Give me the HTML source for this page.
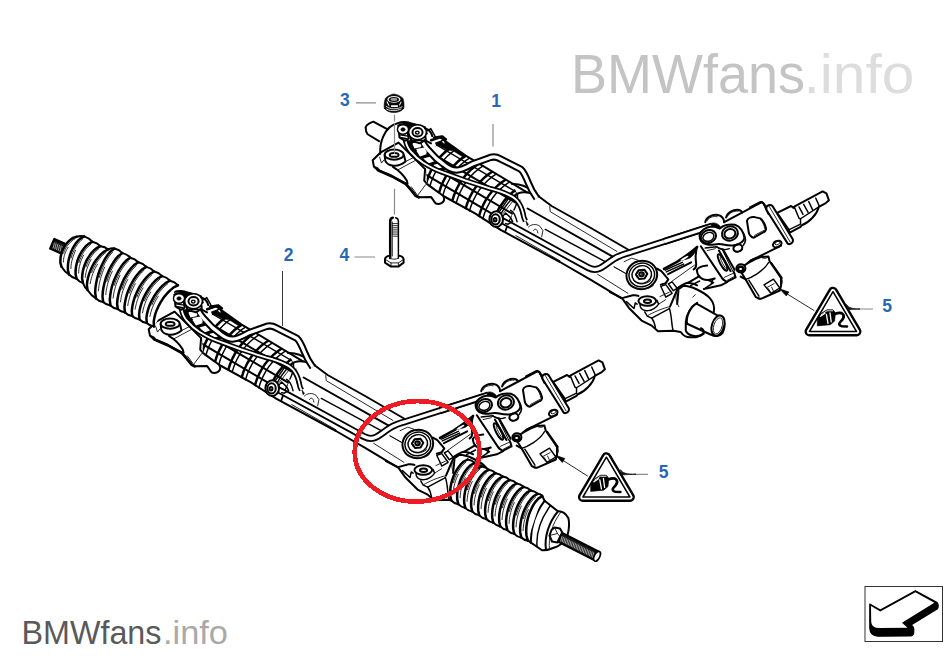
<!DOCTYPE html>
<html><head><meta charset="utf-8">
<style>
html,body{margin:0;padding:0;background:#fff;}
body{width:950px;height:665px;overflow:hidden;position:relative;font-family:"Liberation Sans",sans-serif;}
svg{position:absolute;left:0;top:0;display:block}
path,ellipse,line,polyline,polygon,circle{vector-effect:non-scaling-stroke}
.kk{fill:none;stroke:#000;stroke-width:2.5;stroke-linejoin:round;stroke-linecap:round}
.k{fill:none;stroke:#000;stroke-width:2.0;stroke-linejoin:round;stroke-linecap:round}
.m{fill:none;stroke:#000;stroke-width:1.45;stroke-linejoin:round;stroke-linecap:round}
.t{fill:none;stroke:#111;stroke-width:.9;stroke-linejoin:round;stroke-linecap:round}
.w{fill:#fff;stroke:#000;stroke-width:2.0;stroke-linejoin:round;stroke-linecap:round}
.wm{fill:#fff;stroke:#000;stroke-width:1.45;stroke-linejoin:round;stroke-linecap:round}
.wt{fill:#fff;stroke:#111;stroke-width:.8;stroke-linejoin:round;stroke-linecap:round}
.wn{fill:#fff;stroke:none}
.b{fill:#000;stroke:#000;stroke-width:.6;stroke-linejoin:round}
.lbl{font-family:"Liberation Sans",sans-serif;font-weight:bold;font-size:17.5px;fill:#2768b6;text-anchor:middle}
.ld{stroke:#8a8a8a;stroke-width:1.2;fill:none}
.dd{stroke:#8c8c8c;stroke-width:1;fill:none;stroke-dasharray:7 2}
</style></head><body>
<svg width="950" height="665" viewBox="0 0 950 665">
<defs>
<g id="rack">
<g transform="translate(355,130) scale(0.126316)"><path class="w" d="M200,180 L140,240 L150,290 L182,318 L290,365 L400,425 L440,470 L480,520 L505,532 L600,530 C615,540 620,565 640,582 C670,592 708,575 706,545 L700,522 L555,310 L345,100 Z"/><path class="b" d="M150,285 L185,300 L200,330 Z"/><path d="M182,318 L290,365 L400,425 L440,470 L480,520 L505,532" fill="none" stroke="#000" stroke-width="2.8" stroke-linejoin="round" stroke-linecap="round"/><path class="k" d="M235,200 L240,245 C260,290 340,300 400,250 L388,200"/><path class="k" d="M300,292 C330,310 380,350 410,400 L416,425"/><path class="t" d="M335,318 L480,240"/><path class="t" d="M400,250 L475,212"/><path class="t" d="M500,512 L560,432"/><path class="t" d="M432,455 L476,515"/><path class="t" d="M446,450 L490,510"/><path class="t" d="M195,215 L210,262 L228,238"/><path class="k" d="M555,310 L548,400 L575,432 L660,492"/><ellipse class="w" cx="310" cy="195" rx="75" ry="40"/><ellipse class="k" cx="310" cy="197" rx="35" ry="15"/></g>
<polygon class="wn" points="426,168 441,138 465.3,155.3 527,192.3 552,206 628,249.5 640,300 621.6,298.3 500.6,230 443,196 427,185"/><clipPath id="ribclip"><polygon points="426,168 440,137 465.3,155.3 512,183.5 517.5,194 514,210 506,232 500.6,230 443,196 427,185"/></clipPath><g clip-path="url(#ribclip)"><path class="k" d="M420,171.194 L530,236.094"/><path class="k" d="M420,159.194 L530,224.094"/><path class="k" d="M420,146.194 L530,211.094"/><path class="m" d="M420,135.194 L530,200.094"/><path class="kk" d="M412,178.474 Q419,149.6 440,136.6"/><path class="m" d="M415.9,180.775 Q422.9,152.33 443.9,139.33"/><path class="kk" d="M425.3,186.321 Q432.3,158.91 453.3,145.91"/><path class="m" d="M429.2,188.622 Q436.2,161.64 457.2,148.64"/><path class="kk" d="M438.6,194.168 Q445.6,168.08 466.6,155.08"/><path class="m" d="M442.5,196.469 Q449.5,170.42 470.5,157.42"/><path class="kk" d="M451.9,202.015 Q458.9,176.06 479.9,163.06"/><path class="m" d="M455.8,204.316 Q462.8,178.4 483.8,165.4"/><path class="kk" d="M465.2,209.862 Q472.2,184.04 493.2,171.04"/><path class="m" d="M469.1,212.163 Q476.1,186.38 497.1,173.38"/><path class="kk" d="M478.5,217.709 Q485.5,192.02 506.5,179.02"/><path class="m" d="M482.4,220.01 Q489.4,194.36 510.4,181.36"/><path class="kk" d="M491.8,225.556 Q498.8,200 519.8,187"/><path class="m" d="M495.7,227.857 Q502.7,202.34 523.7,189.34"/><path class="kk" d="M505.1,233.403 Q512.1,207.98 533.1,194.98"/><path class="m" d="M509,235.704 Q516,210.32 537,197.32"/><path class="b" d="M446,141 L466,153.5 L463,157 L444,145 Z"/></g><path class="k" d="M441,138 L465.3,155.3 L527,192.3"/><path class="k" d="M427.6,184.3 L443.4,196 L475,213.4 L500.6,229.9 L560,262 L590,279.4 L621.6,298.3"/><path class="k" d="M512,184 C518,183.5 526,186 533,191"/><path class="k" d="M514,196 C519,191.5 528,191 539,196.5"/><path class="m" d="M517.5,194 C518,200 516,206 514,210"/><path class="t" d="M520,200 C519,206 520,214 523,219"/><path class="k" d="M538.9,196.5 L551.6,206 L590,227.5 L628,249.5"/><path class="t" d="M549.7,206.6 L550.3,211.7 L617,251.5"/><path class="k" d="M527.6,208.5 L612.7,256.6"/><path class="m" d="M545.3,229.4 L605.2,261.7"/><path class="t" d="M515.8,235.6 L560,260.8"/><path class="t" d="M597.6,274.3 L627.9,293.3"/><path class="t" d="M614,266.7 L625,273"/><path class="b" d="M406,141 L423,139 L431,152 L441,162 L452,168 L440,171 L424,163 L412,153 Z"/><path class="wn" d="M412.5,144 L419.5,143 L421.5,147 L414.5,148.5 Z M416.5,151 L424,149 L427,154 L420,156.5 Z M423.5,158.5 L430,156.5 L435,161 L428.5,163.5 Z M433,165 L438.5,163.5 L444,167 L438,168.8 Z"/><path d="M500,219.5 L506.9,223.2 L588,267.6 C598,273 603,266 614,258.8 C620,255 624,254 629.8,252.5 L707,227.8" fill="none" stroke="#000" stroke-width="7" stroke-linecap="butt" stroke-linejoin="round"/><path d="M500,219.5 L506.9,223.2 L588,267.6 C598,273 603,266 614,258.8 C620,255 624,254 629.8,252.5 L707,227.8" fill="none" stroke="#fff" stroke-width="3.4" stroke-linecap="butt" stroke-linejoin="round"/><path d="M405.5,140.6 C407,147 409,150 411.8,152.7 C416,158 419,160 423.2,162.8 C430,167 436,170 440.9,171.7 L465.3,180.5 L490.5,188.7 C500,191 505,193 510.1,195.7 C515,198 517,200 519,203.3 C522,208 523,212 524,217.9 L525.5,221" fill="none" stroke="#000" stroke-width="5.3" stroke-linecap="butt" stroke-linejoin="round"/><path d="M405.5,140.6 C407,147 409,150 411.8,152.7 C416,158 419,160 423.2,162.8 C430,167 436,170 440.9,171.7 L465.3,180.5 L490.5,188.7 C500,191 505,193 510.1,195.7 C515,198 517,200 519,203.3 C522,208 523,212 524,217.9 L525.5,221" fill="none" stroke="#fff" stroke-width="1.9" stroke-linecap="butt" stroke-linejoin="round"/><path d="M421.9,140.6 C424,146 427,149 430.8,152.7 C435,158 439,161 443.4,164.1 C448,168 452,170 456.4,170.2 C462,170 467,167 472.2,164.1 L490.5,157.4 C494,156.5 497,157 500,158.7 L520.8,169.2 C524,172 526,177 528.4,183 C530.5,188.5 533,193 536.8,198.2" fill="none" stroke="#000" stroke-width="7.3" stroke-linecap="butt" stroke-linejoin="round"/><path d="M421.9,140.6 C424,146 427,149 430.8,152.7 C435,158 439,161 443.4,164.1 C448,168 452,170 456.4,170.2 C462,170 467,167 472.2,164.1 L490.5,157.4 C494,156.5 497,157 500,158.7 L520.8,169.2 C524,172 526,177 528.4,183 C530.5,188.5 533,193 536.8,198.2" fill="none" stroke="#fff" stroke-width="3.2" stroke-linecap="butt" stroke-linejoin="round"/><g transform="translate(440,180) scale(0.126316)"><ellipse class="w" cx="445" cy="310" rx="54" ry="62"/><ellipse class="k" cx="440" cy="312" rx="33" ry="40"/><ellipse class="k" cx="436" cy="314" rx="11" ry="14"/><path class="m" d="M495,290 L520,262 L560,300 L575,330 L540,350 L520,345"/><path class="m" d="M470,250 L540,150"/><path class="t" d="M500,265 L575,170"/><path class="m" d="M560,240 C580,250 600,290 610,330"/><path class="t" d="M700,372 C720,350 760,345 790,365 L815,400 L805,450"/><path class="t" d="M740,400 C750,380 770,385 775,420"/><path class="b" d="M680,325 L700,350 L690,362 Z"/></g>
<path class="b" d="M397.5,125.5 C401,121.6 411,121.6 425.5,126.8 L427.5,134 L419,138 L409,137 L400,134 Z"/><path class="b" d="M435.4,142.8 L440.5,141.1 L443.8,143.6 L448.9,147.4 L452,150.5 L447,150 L440.5,146.4 L436.3,145.3 Z"/><path class="kk" d="M431.2,140.3 L440.5,137.1 L443.8,139 L448.9,147 L454,149.5"/><path class="wn" d="M412.5,143 L420,142.5 L421.5,146 L414.5,147 Z"/><path class="wn" d="M416,149 L424.5,147.5 L427,152.5 L419.5,154.5 Z"/><g transform="translate(355,85) scale(0.126316)"><path class="k" d="M345,300 C370,290 420,292 445,305 L555,340"/><path class="w" d="M348,372 L352,415 L395,442 L425,425 L418,380 Z"/><path class="m" d="M355,395 L420,405 M360,415 L410,425"/><path class="w" d="M437,400 L445,442 L515,462 L560,430 L556,395 Z"/><path class="m" d="M445,425 L555,412 M450,440 L540,440"/><ellipse class="wm" cx="380" cy="352" rx="44" ry="38"/><ellipse class="b" cx="380" cy="352" rx="17" ry="14"/><ellipse class="wm" cx="495" cy="374" rx="70" ry="60"/><ellipse class="k" cx="495" cy="374" rx="40" ry="34"/><ellipse class="m" cx="493" cy="377" rx="14" ry="12"/><path class="k" d="M555,345 C585,352 605,380 612,405"/><path class="m" d="M575,362 L600,345 L635,408"/><path class="k" d="M560,440 L602,462"/><path class="k" d="M625,415 L690,405 L722,430"/></g>
<g transform="translate(590,220) scale(0.126316)"><path class="k" d="M530,385 L565,405 L620,470 L600,500 L560,512"/><path class="m" d="M620,505 L650,490 L690,540 L660,560 Z"/><path class="m" d="M560,525 L600,512 L650,580 L600,610 Z"/><path class="k" d="M690,548 L700,560 L690,665"/><path class="t" d="M190,372 L285,425"/><path class="t" d="M270,330 L330,302 L380,318"/><ellipse class="w" cx="410" cy="435" rx="122" ry="112" transform="rotate(-15 410 435)"/><ellipse class="m" cx="410" cy="435" rx="102" ry="93" transform="rotate(-15 410 435)"/><ellipse class="m" cx="410" cy="432" rx="78" ry="70" transform="rotate(-15 410 432)"/><path class="k" d="M364,432 L386,397 L430,393 L454,426 L432,463 L388,467 Z"/><ellipse class="k" cx="408" cy="429" rx="18" ry="16"/><ellipse class="t" cx="409" cy="428" rx="6" ry="5"/><path class="t" d="M372,455 C360,440 362,415 380,402"/><path class="t" d="M345,480 C380,515 440,515 480,480"/><path class="t" d="M330,520 C390,560 450,555 500,520"/></g>
<g transform="translate(610,265) scale(0.126316)"><path class="k" d="M0,215 L95,262 L150,340 L250,440 L330,480 L380,525 L500,520 L560,530 C580,560 600,575 640,572 C680,575 720,560 740,540"/><path class="k" d="M95,262 L180,240 C200,238 215,240 225,245"/><path class="m" d="M130,290 L190,345 L200,300 L215,310"/><path class="m" d="M235,290 L240,330 C260,375 340,375 385,310 L372,280"/><path class="m" d="M275,372 L295,405 L330,420 L470,345"/><path class="t" d="M300,400 C330,380 420,340 475,330"/><path class="m" d="M330,420 C345,440 355,470 360,500"/><path class="m" d="M470,345 C490,400 485,470 500,520"/><path class="k" d="M475,330 L530,200"/><path class="t" d="M385,310 L440,275 M395,250 L470,215"/><ellipse class="w" cx="295" cy="285" rx="70" ry="38"/><ellipse class="k" cx="297" cy="287" rx="28" ry="14"/><path class="k" d="M530,200 L580,165 C640,165 740,210 790,262 C815,290 830,330 822,372"/><path class="t" d="M530,200 C510,260 530,300 545,330"/><path class="k" d="M690,300 C640,330 605,390 600,450 L600,520 C615,560 690,580 740,545"/><path class="t" d="M655,255 L675,235"/></g>
<g transform="translate(640,232) scale(0.126316)"><path class="kk" d="M190,292 L300,232 C340,205 400,165 452,118"/><path class="b" d="M300,232 C340,202 410,160 452,118 C442,160 420,188 395,206 C370,216 330,226 300,232 Z"/><ellipse class="wn" cx="352" cy="208" rx="36" ry="8" transform="rotate(-30 352 208)"/><path class="m" d="M200,302 L335,240"/><path class="m" d="M208,316 L345,254"/><path class="k" d="M222,334 L405,240"/><path class="t" d="M250,392 L432,262"/><path class="k" d="M452,118 C435,170 440,220 445,255 C445,275 435,290 425,296"/><path class="k" d="M450,302 C455,285 480,272 532,266"/><path class="k" d="M450,302 C452,330 470,360 495,372 C520,382 560,380 592,368"/><path class="m" d="M540,382 L582,400 L520,442 M560,418 L575,382"/><path class="k" d="M505,452 L560,440 L640,422 L690,396"/><path class="k" d="M380,402 L470,350"/><path class="m" d="M400,424 L472,388"/><path class="k" d="M300,442 C330,420 360,405 380,402 C410,405 440,415 452,422"/></g>
<g transform="translate(680,240) scale(0.126316)"><path class="w" d="M165,50 L340,312 L370,332 L440,296 L430,262 L340,78"/><path class="t" d="M340,312 L352,295 L425,262"/><path class="t" d="M372,320 L432,288"/><ellipse class="k" cx="337" cy="178" rx="20" ry="72" transform="rotate(-28 337 178)"/><ellipse class="t" cx="345" cy="180" rx="9" ry="55" transform="rotate(-28 345 180)"/></g>
<g transform="translate(680,195) scale(0.126316)"><path class="wn" d="M350,215 L640,60 C655,58 665,68 668,80 L815,372 L800,400 L620,490 L510,548 L420,600 L340,432 L165,370 Z"/><path class="w" d="M200,215 C205,180 250,150 300,158 C330,165 348,190 350,215"/><path class="w" d="M365,178 C375,140 420,112 465,118 C485,122 492,135 490,140"/><path class="t" d="M215,205 C225,178 260,165 295,172"/><path class="t" d="M378,168 C390,140 425,125 460,128"/><path class="k" d="M350,215 L640,60 C655,58 665,68 668,80"/><path class="k" d="M668,80 L700,150"/><path class="k" d="M800,400 L620,490 L560,520"/><path class="k" d="M530,205 C535,185 560,172 590,175 L635,185 C655,200 675,240 682,268 C680,285 665,295 650,300 L585,338 C565,335 550,315 545,300 Z"/><path class="t" d="M590,320 L665,280 M598,330 L672,290"/><path class="t" d="M640,195 C655,215 668,245 672,268"/></g>
<path d="M664,241.6 L712,226.2" fill="none" stroke="#000" stroke-width="7" stroke-linecap="butt" stroke-linejoin="round"/><path d="M664,241.6 L712,226.2" fill="none" stroke="#fff" stroke-width="3.4" stroke-linecap="butt" stroke-linejoin="round"/><g transform="translate(680,195) scale(0.126316)"><path class="w" d="M155,322 C160,285 200,255 250,250 C280,250 300,258 315,265 C340,240 390,228 435,236 C475,248 505,290 510,340 C505,368 470,392 420,400 C390,402 355,395 330,390 C300,385 290,388 270,392 C230,400 185,390 168,365 C158,350 154,335 155,322 Z"/><path class="b" d="M245,225 C265,215 300,222 320,250 L310,262 C290,250 265,245 250,248 Z"/><ellipse class="k" cx="225" cy="330" rx="62" ry="50" transform="rotate(-25 225 330)"/><ellipse class="m" cx="225" cy="332" rx="45" ry="34" transform="rotate(-25 225 332)"/><ellipse class="k" cx="395" cy="305" rx="64" ry="56" transform="rotate(-20 395 305)"/><ellipse class="k" cx="395" cy="307" rx="44" ry="37" transform="rotate(-20 395 307)"/><path class="t" d="M190,355 C210,372 245,368 262,350"/><path class="t" d="M362,335 C385,352 420,345 432,322"/><ellipse class="k" cx="458" cy="420" rx="36" ry="28" transform="rotate(-20 458 420)"/><path class="m" d="M430,440 C450,455 480,450 492,432"/><path class="m" d="M500,300 C520,330 525,370 500,400"/><ellipse class="k" cx="770" cy="388" rx="36" ry="24" transform="rotate(-25 770 388)"/><ellipse class="t" cx="772" cy="380" rx="22" ry="12" transform="rotate(-25 772 380)"/><path class="m" d="M200,420 L290,410 L340,432"/><path class="t" d="M215,440 L280,425"/><path class="k" d="M308,440 L400,602"/><path class="k" d="M340,430 L432,592"/><path class="m" d="M290,410 C310,430 350,440 390,425"/><path class="m" d="M520,562 L640,495 L700,490"/><path class="m" d="M530,540 C560,510 610,490 640,495"/></g>
<g transform="translate(680,240) scale(0.126316)"><path class="w" d="M470,232 C500,200 590,150 640,135 L700,130 L710,170 L800,300 L800,362 L790,400 L640,466 L600,452 L520,312 Z"/><path class="m" d="M520,312 C560,300 660,250 700,180"/><path class="k" d="M480,290 L520,312"/><path class="m" d="M545,318 L625,445"/><path class="m" d="M722,178 L808,300"/><path class="b" d="M600,452 C610,470 630,475 640,466"/><path class="b" d="M790,290 C815,300 815,340 800,362"/><path class="m" d="M665,355 L740,310 L790,380 L720,422 Z"/><path class="t" d="M690,375 L745,345 M700,385 L715,415 M725,372 L740,405"/><path class="t" d="M640,135 C655,150 690,150 700,130"/><ellipse class="w" cx="482" cy="224" rx="36" ry="32"/><ellipse class="kk" cx="480" cy="229" rx="22" ry="18"/><path class="m" d="M452,244 C470,266 505,262 515,239"/></g>
<g transform="translate(750,170) scale(0.126316)"><path class="w" d="M215,340 L325,285 L345,300 L350,290 L575,170 L605,185 L625,240 L600,262 L545,292 C530,350 470,415 410,437 L400,450 L315,495 L305,470 Z"/><path class="m" d="M350,290 L388,382 L400,386 L545,292"/><path class="m" d="M388,292 L420,352 M425,272 L460,335 M465,250 L497,318 M520,222 L547,282"/><path class="m" d="M310,472 L400,428 L400,386"/><path class="w" d="M128,300 C130,280 160,268 178,285 L340,550 C345,575 320,592 300,585 L132,318 Z"/><path class="t" d="M150,285 L318,570"/><path class="k" d="M0,296 L80,255 C95,252 108,262 112,272 L128,300"/></g>

</g>
<g id="tri">
<path d="M0,5 L23.5,44.8 L-23.5,44.8 Z" fill="#fff" stroke="#000" stroke-width="10" stroke-linejoin="round"/><path d="M0,5 L23.5,44.8 L-23.5,44.8 Z" fill="#fff" stroke="#fff" stroke-width="5.2" stroke-linejoin="round"/><path d="M0,5 L23.5,44.8 L-23.5,44.8 Z" fill="#fff" stroke="#000" stroke-width="1.5" stroke-linejoin="round"/><g transform="translate(0,2.6)"><path class="b" d="M-15.7,29.3 L-13.6,25.1 L-6,20.4 L-0.1,20.4 L2.4,23.4 L1.6,31.8 L-2.6,35.4 L-15.7,36.6 Z"/><path d="M-6.6,25 L-5,34 M-3,23.5 L-1.8,32.5 M-12.5,27 L-8,24" stroke="#fff" stroke-width="1.3" fill="none" stroke-linecap="round"/><path d="M-12,25.5 L-6,21.5 L0,21.5" stroke="#fff" stroke-width=".9" fill="none"/><path d="M1.8,24.6 C5,23.5 8,23 9.6,24.6 C12.5,27.5 9.5,30.5 7,33 C5.5,35 6.5,36.5 9,37 L14,37.2" fill="none" stroke="#000" stroke-width="2.6" stroke-linecap="round" stroke-linejoin="round"/></g>
</g>
</defs>
<text x="571" y="92.6" font-size="55.5" fill="#c4c4c4" textLength="234" lengthAdjust="spacingAndGlyphs">BMWfans</text><text x="803.5" y="92.6" font-size="55.5" fill="#dddddd" textLength="111" lengthAdjust="spacingAndGlyphs">.info</text><text x="21.5" y="643.8" font-size="33.5" fill="#5a5a5a" textLength="140" lengthAdjust="spacingAndGlyphs">BMWfans</text><text x="163" y="643.8" font-size="33.5" fill="#a9a9a9" textLength="65" lengthAdjust="spacingAndGlyphs">.info</text>
<use href="#rack"/>
<g transform="translate(355,85) scale(0.126316)"><path class="w" d="M255,350 L145,290 C105,305 80,325 85,345 C85,365 93,383 100,390 L190,445"/><path class="k" d="M345,300 C290,310 245,355 222,410 C205,450 197,500 200,545"/></g>
<g transform="translate(610,265) scale(0.126316)"><path class="w" d="M685,305 L850,398 C900,400 925,470 890,540 C870,565 830,570 800,552 L610,465 C600,400 640,330 685,305 Z"/><ellipse class="w" cx="855" cy="480" rx="48" ry="82" transform="rotate(18 855 480)"/><ellipse class="t" cx="855" cy="482" rx="33" ry="66" transform="rotate(18 855 482)"/><path class="k" d="M740,545 C745,520 735,505 720,500"/></g>
<g transform="translate(833,286.7)"><use href="#tri"/></g><path class="t" d="M814,310.5 L784,292"/><path class="b" d="M779.6,288.8 L788.9,292 L786.3,296 Z"/>
<use href="#rack" transform="translate(-224,169)"/>
<path d="M50.1,248.6 L70.9,257.8 L75.1,248.2 L54.3,239.0 Z" fill="#1a1a1a" stroke="#000" stroke-width="2.2" stroke-linejoin="round"/><path d="M53.0,248.5 L54.4,242.6 M54.8,249.3 L56.1,243.3 M56.5,250.1 L57.8,244.1 M58.2,250.8 L59.6,244.9 M60.0,251.6 L61.3,245.6 M61.7,252.4 L63.0,246.4 M63.4,253.1 L64.8,247.2 M65.2,253.9 L66.5,247.9 M66.9,254.7 L68.2,248.7 M68.6,255.4 L70.0,249.5 M70.4,256.2 L71.7,250.2 " fill="none" stroke="#d8d8d8" stroke-width=".7"/><path class="wn" d="M76.6,236.7 Q81.1,235.3 84.2,236.4 Q89.0,237.9 92.4,241.8 Q97.2,242.8 100.6,246.2 Q105.1,246.6 108.2,249.4 Q112.0,247.7 114.5,248.5 Q119.2,249.6 122.4,253.1 Q127.1,254.2 130.4,257.7 Q135.0,258.8 138.3,262.3 Q143.0,263.4 146.3,266.9 Q150.9,268.0 154.2,271.5 Q158.9,272.6 162.1,276.1 Q166.8,277.2 170.1,280.7 Q174.7,281.8 178.0,285.3 L154.0,326.5 Q149.7,326.0 146.8,323.0 Q142.4,322.5 139.5,319.5 Q135.2,319.0 132.2,316.0 Q127.9,315.5 125.0,312.5 Q120.7,312.0 117.8,309.0 Q113.4,308.5 110.5,305.5 Q106.2,305.0 103.2,302.0 Q98.9,301.5 96.0,298.5 Q91.1,295.5 87.5,290.0 Q84.6,287.7 83.0,283.0 Q79.1,282.1 76.6,278.7 Q72.1,277.8 69.0,274.5 Q64.6,271.8 61.5,266.7 Q58.3,245.6 76.6,236.7 Z"/><path class="k" d="M76.6,236.7 Q81.1,235.3 84.2,236.4 Q89.0,237.9 92.4,241.8 Q97.2,242.8 100.6,246.2 Q105.1,246.6 108.2,249.4 Q112.0,247.7 114.5,248.5 Q119.2,249.6 122.4,253.1 Q127.1,254.2 130.4,257.7 Q135.0,258.8 138.3,262.3 Q143.0,263.4 146.3,266.9 Q150.9,268.0 154.2,271.5 Q158.9,272.6 162.1,276.1 Q166.8,277.2 170.1,280.7 Q174.7,281.8 178.0,285.3"/><path class="k" d="M61.5,266.7 Q64.6,271.8 69.0,274.5 Q72.1,277.8 76.6,278.7 Q79.1,282.1 83.0,283.0 Q84.6,287.7 87.5,290.0 Q91.1,295.5 96.0,298.5 Q98.9,301.5 103.2,302.0 Q106.2,305.0 110.5,305.5 Q113.4,308.5 117.8,309.0 Q120.7,312.0 125.0,312.5 Q127.9,315.5 132.2,316.0 Q135.2,319.0 139.5,319.5 Q142.4,322.5 146.8,323.0 Q149.7,326.0 154.0,326.5"/><path class="kk" d="M76.6,236.7 L73.0,237.9 L70.4,239.7 L68.3,241.6 L66.4,243.8 L64.8,246.1 L63.4,248.5 L62.3,251.1 L61.4,253.8 L60.7,256.6 L60.4,259.7 L60.4,262.9 L61.5,266.7"/><path class="t" d="M74.9,238.8 L73.4,239.7 L72.1,240.7 L70.9,241.8 L69.8,242.9 L68.7,244.0 L67.8,245.2 L66.9,246.5 L66.1,247.7 L65.4,249.0 L64.7,250.4 L64.1,251.8 L63.6,253.2"/><path class="t" d="M68.1,247.3 L67.5,248.4 L66.8,249.5 L66.3,250.6 L65.7,251.8 L65.2,252.9 L64.8,254.1 L64.4,255.4 L64.1,256.6 L63.8,257.9 L63.6,259.2 L63.5,260.6 L63.4,262.0"/><path class="kk" d="M84.2,236.4 L80.6,238.3 L78.0,240.7 L75.8,243.4 L74.0,246.2 L72.3,249.2 L70.9,252.3 L69.8,255.5 L68.9,258.9 L68.2,262.4 L67.9,266.1 L67.9,270.0 L69.0,274.5"/><path class="t" d="M82.5,239.2 L81.0,240.4 L79.7,241.8 L78.5,243.2 L77.3,244.7 L76.3,246.2 L75.4,247.7 L74.5,249.4 L73.7,251.0 L72.9,252.7 L72.2,254.4 L71.6,256.2 L71.1,258.0"/><path class="t" d="M75.7,250.3 L75.0,251.6 L74.4,253.0 L73.8,254.5 L73.3,255.9 L72.8,257.4 L72.4,258.9 L72.0,260.4 L71.6,262.0 L71.4,263.6 L71.1,265.2 L71.0,266.9 L70.9,268.6"/><path class="kk" d="M92.4,241.8 L88.8,243.6 L86.1,245.9 L83.9,248.5 L82.0,251.2 L80.3,254.1 L78.8,257.1 L77.6,260.2 L76.7,263.5 L76.0,266.9 L75.6,270.5 L75.6,274.3 L76.6,278.7"/><path class="t" d="M90.6,244.5 L89.1,245.7 L87.8,247.0 L86.5,248.3 L85.4,249.8 L84.3,251.2 L83.3,252.7 L82.4,254.3 L81.6,255.9 L80.8,257.5 L80.1,259.2 L79.5,260.9 L78.9,262.6"/><path class="t" d="M83.6,255.2 L82.9,256.5 L82.3,257.9 L81.7,259.2 L81.1,260.6 L80.6,262.1 L80.2,263.5 L79.8,265.0 L79.4,266.6 L79.1,268.1 L78.9,269.7 L78.7,271.3 L78.6,273.0"/><path class="kk" d="M100.6,246.2 L96.8,248.0 L94.0,250.3 L91.6,252.8 L89.6,255.6 L87.7,258.4 L86.1,261.4 L84.8,264.5 L83.7,267.8 L82.8,271.2 L82.3,274.8 L82.1,278.6 L83.0,283.0"/><path class="t" d="M98.7,248.9 L97.1,250.1 L95.7,251.4 L94.3,252.7 L93.1,254.1 L92.0,255.6 L90.9,257.1 L89.9,258.6 L89.0,260.2 L88.2,261.8 L87.4,263.5 L86.7,265.2 L86.0,266.9"/><path class="t" d="M91.1,259.5 L90.4,260.9 L89.6,262.2 L89.0,263.6 L88.4,265.0 L87.8,266.4 L87.3,267.9 L86.8,269.4 L86.4,270.9 L86.0,272.4 L85.7,274.0 L85.4,275.6 L85.3,277.3"/><path class="kk" d="M108.2,249.4 L104.2,251.5 L101.1,254.1 L98.5,257.0 L96.1,260.0 L94.0,263.2 L92.2,266.5 L90.6,270.0 L89.2,273.6 L88.1,277.3 L87.3,281.2 L86.9,285.3 L87.5,290.0"/><path class="t" d="M106.0,252.4 L104.3,253.7 L102.7,255.2 L101.3,256.7 L99.9,258.3 L98.6,259.9 L97.4,261.6 L96.3,263.3 L95.2,265.1 L94.2,266.9 L93.3,268.7 L92.5,270.6 L91.7,272.5"/><path class="t" d="M97.5,264.3 L96.6,265.7 L95.8,267.2 L95.0,268.7 L94.2,270.3 L93.6,271.9 L92.9,273.5 L92.3,275.1 L91.8,276.7 L91.3,278.4 L90.9,280.1 L90.5,281.9 L90.2,283.7"/><path class="kk" d="M114.5,248.5 L110.6,251.4 L107.8,254.8 L105.3,258.4 L103.2,262.3 L101.3,266.2 L99.6,270.3 L98.2,274.5 L97.0,278.9 L96.1,283.4 L95.4,288.1 L95.2,293.0 L96.0,298.5"/><path class="t" d="M112.5,252.2 L110.9,254.0 L109.4,255.9 L108.1,257.9 L106.8,259.9 L105.6,261.9 L104.5,264.0 L103.5,266.2 L102.5,268.3 L101.6,270.5 L100.8,272.8 L100.0,275.1 L99.4,277.4"/><path class="t" d="M104.7,267.1 L103.9,268.9 L103.1,270.8 L102.4,272.7 L101.8,274.6 L101.2,276.5 L100.6,278.4 L100.1,280.4 L99.6,282.4 L99.2,284.5 L98.9,286.5 L98.6,288.6 L98.4,290.8"/><path class="kk" d="M122.4,253.1 L118.5,255.9 L115.6,259.2 L113.1,262.8 L110.9,266.5 L108.9,270.4 L107.2,274.4 L105.7,278.5 L104.5,282.8 L103.5,287.2 L102.8,291.8 L102.5,296.6 L103.2,302.0"/><path class="t" d="M120.4,256.7 L118.7,258.5 L117.2,260.3 L115.8,262.2 L114.5,264.2 L113.3,266.2 L112.2,268.2 L111.1,270.3 L110.1,272.4 L109.2,274.6 L108.4,276.8 L107.6,279.1 L106.9,281.4"/><path class="t" d="M112.3,271.3 L111.5,273.1 L110.7,274.9 L110.0,276.7 L109.3,278.5 L108.7,280.4 L108.1,282.3 L107.6,284.3 L107.1,286.3 L106.7,288.2 L106.3,290.3 L106.0,292.3 L105.8,294.5"/><path class="kk" d="M130.4,257.7 L126.4,260.4 L123.4,263.6 L120.9,267.1 L118.6,270.7 L116.6,274.5 L114.8,278.4 L113.2,282.5 L111.9,286.7 L110.9,291.0 L110.2,295.5 L109.8,300.2 L110.5,305.5"/><path class="t" d="M128.3,261.2 L126.6,262.9 L125.1,264.7 L123.6,266.6 L122.3,268.5 L121.1,270.4 L119.9,272.4 L118.8,274.5 L117.8,276.6 L116.8,278.7 L115.9,280.8 L115.1,283.0 L114.4,285.3"/><path class="t" d="M120.0,275.4 L119.1,277.2 L118.3,278.9 L117.6,280.7 L116.9,282.5 L116.2,284.4 L115.6,286.3 L115.1,288.2 L114.5,290.1 L114.1,292.0 L113.7,294.0 L113.4,296.1 L113.1,298.1"/><path class="kk" d="M138.3,262.3 L134.3,264.9 L131.3,268.0 L128.6,271.4 L126.3,275.0 L124.2,278.6 L122.4,282.5 L120.8,286.4 L119.4,290.5 L118.3,294.8 L117.5,299.2 L117.1,303.8 L117.8,309.0"/><path class="t" d="M136.2,265.7 L134.4,267.4 L132.9,269.1 L131.4,270.9 L130.1,272.8 L128.8,274.7 L127.6,276.7 L126.5,278.6 L125.4,280.7 L124.4,282.7 L123.5,284.9 L122.7,287.0 L121.9,289.2"/><path class="t" d="M127.7,279.6 L126.8,281.3 L125.9,283.0 L125.2,284.8 L124.4,286.5 L123.8,288.3 L123.1,290.2 L122.5,292.0 L122.0,293.9 L121.5,295.8 L121.1,297.8 L120.8,299.8 L120.5,301.8"/><path class="kk" d="M146.3,266.9 L142.2,269.4 L139.1,272.5 L136.4,275.7 L134.0,279.2 L131.9,282.8 L130.0,286.5 L128.3,290.4 L126.9,294.4 L125.8,298.5 L124.9,302.9 L124.4,307.4 L125.0,312.5"/><path class="t" d="M144.0,270.3 L142.3,271.9 L140.7,273.6 L139.2,275.3 L137.8,277.1 L136.5,279.0 L135.3,280.9 L134.1,282.8 L133.1,284.8 L132.0,286.8 L131.1,288.9 L130.2,291.0 L129.4,293.1"/><path class="t" d="M135.3,283.8 L134.4,285.4 L133.6,287.1 L132.8,288.8 L132.0,290.5 L131.3,292.3 L130.6,294.1 L130.0,295.9 L129.5,297.7 L129.0,299.6 L128.5,301.5 L128.1,303.5 L127.8,305.5"/><path class="kk" d="M154.2,271.5 L150.0,273.9 L146.9,276.9 L144.2,280.1 L141.7,283.4 L139.5,286.9 L137.6,290.6 L135.9,294.3 L134.4,298.3 L133.2,302.3 L132.3,306.5 L131.8,311.0 L132.2,316.0"/><path class="t" d="M151.9,274.8 L150.2,276.3 L148.5,278.0 L147.0,279.7 L145.6,281.4 L144.2,283.2 L143.0,285.1 L141.8,287.0 L140.7,288.9 L139.6,290.9 L138.7,292.9 L137.8,294.9 L136.9,297.0"/><path class="t" d="M143.0,287.9 L142.1,289.5 L141.2,291.2 L140.3,292.8 L139.6,294.5 L138.8,296.2 L138.1,298.0 L137.5,299.8 L136.9,301.6 L136.4,303.4 L135.9,305.3 L135.5,307.2 L135.2,309.1"/><path class="kk" d="M162.1,276.1 L157.9,278.4 L154.7,281.3 L151.9,284.4 L149.4,287.7 L147.2,291.1 L145.2,294.6 L143.4,298.3 L141.9,302.1 L140.6,306.1 L139.6,310.2 L139.1,314.6 L139.5,319.5"/><path class="t" d="M159.8,279.3 L158.0,280.8 L156.3,282.4 L154.8,284.0 L153.3,285.7 L152.0,287.5 L150.7,289.3 L149.5,291.1 L148.3,293.0 L147.2,294.9 L146.2,296.9 L145.3,298.9 L144.4,300.9"/><path class="t" d="M150.6,292.1 L149.7,293.7 L148.8,295.3 L147.9,296.9 L147.1,298.5 L146.4,300.2 L145.6,301.9 L145.0,303.6 L144.4,305.4 L143.8,307.2 L143.3,309.0 L142.9,310.9 L142.5,312.8"/><path class="kk" d="M170.1,280.7 L165.8,282.9 L162.6,285.7 L159.7,288.7 L157.1,291.9 L154.8,295.2 L152.8,298.7 L150.9,302.3 L149.3,306.0 L148.0,309.9 L147.0,313.9 L146.4,318.2 L146.8,323.0"/><path class="t" d="M167.7,283.8 L165.9,285.3 L164.2,286.8 L162.6,288.4 L161.1,290.1 L159.7,291.8 L158.4,293.5 L157.1,295.3 L156.0,297.1 L154.9,299.0 L153.8,300.9 L152.8,302.9 L151.9,304.9"/><path class="t" d="M158.3,296.2 L157.3,297.8 L156.4,299.3 L155.5,300.9 L154.7,302.5 L153.9,304.2 L153.2,305.8 L152.5,307.5 L151.8,309.2 L151.3,311.0 L150.7,312.8 L150.3,314.6 L149.9,316.4"/><path class="kk" d="M178.0,285.3 L173.7,287.4 L170.4,290.1 L167.5,293.0 L164.8,296.1 L162.5,299.3 L160.4,302.7 L158.5,306.2 L156.8,309.9 L155.4,313.6 L154.4,317.6 L153.7,321.8 L154.0,326.5"/><path class="wn" d="M541.8,495.2 L544.6,500.8 L557.9,511.3 C562,511 566,514 568.3,517.9 C569.8,523 569,535 565.3,539.5 C562,544 558,546.5 554.5,547.5 C550,549.5 546,550.5 542,550.2 L527.7,540.4 Z"/><path class="k" d="M541.8,495.2 L544.6,500.8 L557.9,511.3 C562,511 566,514 568.3,517.9 C569.8,523 569,535 565.3,539.5 C562,544 558,546.5 554.5,547.5 C550,549.5 546,550.5 542,550.2 L527.7,540.4"/><path class="k" d="M544.6,500.8 C536,512 530,528 531,543"/><path class="m" d="M550.5,505.5 C542,517 536,532 537,546.5"/><path class="k" d="M557.9,511.3 C549,522 544,537 546,550"/><path class="t" d="M560.5,512.5 C552,524 548,538 549.5,549.5"/><path class="w" d="M549.5,535.5 L551.5,530 L554.5,527.5 L560,528.5 L562,532 L561.5,538.5 L557.5,542.5 L552,541.5 Z"/><path class="t" d="M554.5,527.5 L557.5,533.5 L549.5,535.5 M557.5,533.5 L561.5,538.5"/><path d="M557.9,541.4 L594.2,559.9 L598.4,551.5 L562.1,533.0 Z" fill="#1a1a1a" stroke="#000" stroke-width="2.2" stroke-linejoin="round"/><path d="M560.6,541.5 L562.0,536.2 M562.1,542.2 L563.5,537.0 M563.7,543.0 L565.0,537.8 M565.2,543.8 L566.5,538.5 M566.7,544.5 L568.0,539.3 M568.2,545.3 L569.5,540.1 M569.7,546.1 L571.0,540.9 M571.2,546.8 L572.5,541.6 M572.7,547.6 L574.1,542.4 M574.2,548.4 L575.6,543.2 M575.8,549.2 L577.1,543.9 M577.3,549.9 L578.6,544.7 M578.8,550.7 L580.1,545.5 M580.3,551.5 L581.6,546.3 M581.8,552.2 L583.1,547.0 M583.3,553.0 L584.6,547.8 M584.8,553.8 L586.2,548.6 M586.3,554.6 L587.7,549.3 M587.9,555.3 L589.2,550.1 M589.4,556.1 L590.7,550.9 M590.9,556.9 L592.2,551.6 M592.4,557.6 L593.7,552.4 M593.9,558.4 L595.2,553.2 " fill="none" stroke="#d8d8d8" stroke-width=".7"/><ellipse cx="597" cy="556.3" rx="2.7" ry="5.3" fill="#fff" stroke="#000" stroke-width="1.6" transform="rotate(27 597 556.3)"/><path class="wn" d="M467.7,459.5 Q471.9,460.0 474.7,462.9 Q478.9,463.4 481.7,466.4 Q485.9,466.9 488.7,469.8 Q492.9,470.3 495.7,473.2 Q499.9,473.7 502.7,476.6 Q506.9,477.1 509.7,480.1 Q513.9,480.6 516.7,483.5 Q520.9,484.0 523.7,486.9 Q527.9,487.4 530.7,490.4 Q534.9,490.9 537.7,493.8 Q540.7,493.7 542.3,496.1 L527.7,540.4 Q523.8,540.2 521.3,537.5 Q517.1,536.9 514.3,533.8 Q510.1,533.2 507.3,530.1 Q503.1,529.5 500.3,526.4 Q496.1,525.8 493.3,522.7 Q489.1,522.1 486.3,519.0 Q482.1,518.4 479.3,515.3 Q475.1,514.7 472.3,511.6 Q468.1,511.0 465.3,507.9 Q461.1,507.3 458.3,504.2 Q454.1,503.6 451.3,500.5 Q447.9,473.5 467.7,459.5 Z"/><path class="k" d="M467.7,459.5 Q471.9,460.0 474.7,462.9 Q478.9,463.4 481.7,466.4 Q485.9,466.9 488.7,469.8 Q492.9,470.3 495.7,473.2 Q499.9,473.7 502.7,476.6 Q506.9,477.1 509.7,480.1 Q513.9,480.6 516.7,483.5 Q520.9,484.0 523.7,486.9 Q527.9,487.4 530.7,490.4 Q534.9,490.9 537.7,493.8 Q540.7,493.7 542.3,496.1"/><path class="k" d="M451.3,500.5 Q454.1,503.6 458.3,504.2 Q461.1,507.3 465.3,507.9 Q468.1,511.0 472.3,511.6 Q475.1,514.7 479.3,515.3 Q482.1,518.4 486.3,519.0 Q489.1,522.1 493.3,522.7 Q496.1,525.8 500.3,526.4 Q503.1,529.5 507.3,530.1 Q510.1,533.2 514.3,533.8 Q517.1,536.9 521.3,537.5 Q523.8,540.2 527.7,540.4"/><path class="kk" d="M467.7,459.5 L463.8,461.5 L461.0,464.1 L458.7,467.0 L456.7,470.0 L454.9,473.2 L453.4,476.6 L452.2,480.1 L451.2,483.7 L450.5,487.5 L450.1,491.5 L450.2,495.7 L451.3,500.5"/><path class="t" d="M465.7,462.4 L464.1,463.8 L462.7,465.2 L461.4,466.7 L460.2,468.3 L459.1,470.0 L458.0,471.6 L457.1,473.4 L456.2,475.1 L455.4,476.9 L454.7,478.8 L454.0,480.7 L453.4,482.6"/><path class="t" d="M458.3,474.3 L457.6,475.8 L456.9,477.3 L456.3,478.8 L455.7,480.4 L455.2,482.0 L454.7,483.6 L454.3,485.2 L453.9,486.9 L453.6,488.6 L453.4,490.4 L453.2,492.2 L453.1,494.0"/><path class="kk" d="M474.7,462.9 L470.8,465.0 L468.0,467.6 L465.7,470.5 L463.7,473.5 L461.9,476.8 L460.4,480.1 L459.2,483.6 L458.2,487.3 L457.5,491.1 L457.1,495.1 L457.2,499.4 L458.3,504.2"/><path class="t" d="M472.7,465.8 L471.1,467.2 L469.7,468.7 L468.4,470.2 L467.2,471.8 L466.1,473.5 L465.0,475.2 L464.1,476.9 L463.2,478.7 L462.4,480.5 L461.7,482.4 L461.0,484.3 L460.4,486.2"/><path class="t" d="M465.3,477.8 L464.6,479.3 L463.9,480.8 L463.3,482.4 L462.7,483.9 L462.2,485.5 L461.7,487.2 L461.3,488.8 L460.9,490.5 L460.6,492.3 L460.4,494.0 L460.2,495.8 L460.1,497.7"/><path class="kk" d="M481.7,466.4 L477.8,468.4 L475.0,471.1 L472.7,474.0 L470.7,477.1 L468.9,480.3 L467.4,483.7 L466.2,487.2 L465.2,490.9 L464.5,494.8 L464.1,498.8 L464.2,503.0 L465.3,507.9"/><path class="t" d="M479.7,469.3 L478.1,470.7 L476.7,472.2 L475.4,473.7 L474.2,475.3 L473.1,477.0 L472.0,478.7 L471.1,480.4 L470.2,482.2 L469.4,484.1 L468.7,485.9 L468.0,487.9 L467.4,489.8"/><path class="t" d="M472.3,481.4 L471.6,482.9 L470.9,484.4 L470.3,485.9 L469.7,487.5 L469.2,489.1 L468.7,490.8 L468.3,492.4 L467.9,494.1 L467.6,495.9 L467.4,497.7 L467.2,499.5 L467.1,501.3"/><path class="kk" d="M488.7,469.8 L484.8,471.9 L482.0,474.6 L479.7,477.5 L477.7,480.6 L475.9,483.9 L474.4,487.3 L473.2,490.8 L472.2,494.5 L471.5,498.4 L471.1,502.4 L471.2,506.7 L472.3,511.6"/><path class="t" d="M486.7,472.7 L485.1,474.2 L483.7,475.6 L482.4,477.2 L481.2,478.8 L480.1,480.5 L479.0,482.2 L478.1,484.0 L477.2,485.8 L476.4,487.6 L475.7,489.5 L475.0,491.4 L474.4,493.4"/><path class="t" d="M479.3,484.9 L478.6,486.4 L477.9,487.9 L477.3,489.5 L476.7,491.1 L476.2,492.7 L475.7,494.4 L475.3,496.0 L474.9,497.8 L474.6,499.5 L474.4,501.3 L474.2,503.1 L474.1,505.0"/><path class="kk" d="M495.7,473.2 L491.8,475.3 L489.0,478.0 L486.7,481.0 L484.7,484.1 L482.9,487.4 L481.4,490.8 L480.2,494.4 L479.2,498.1 L478.5,502.0 L478.1,506.1 L478.2,510.4 L479.3,515.3"/><path class="t" d="M493.7,476.2 L492.1,477.6 L490.7,479.1 L489.4,480.7 L488.2,482.3 L487.1,484.0 L486.0,485.7 L485.1,487.5 L484.2,489.3 L483.4,491.2 L482.7,493.1 L482.0,495.0 L481.4,497.0"/><path class="t" d="M486.3,488.4 L485.6,490.0 L484.9,491.5 L484.3,493.1 L483.7,494.7 L483.2,496.3 L482.7,498.0 L482.3,499.7 L481.9,501.4 L481.6,503.1 L481.4,504.9 L481.2,506.8 L481.1,508.6"/><path class="kk" d="M502.7,476.6 L498.8,478.8 L496.0,481.5 L493.7,484.5 L491.7,487.6 L489.9,490.9 L488.4,494.4 L487.2,498.0 L486.2,501.7 L485.5,505.6 L485.1,509.7 L485.2,514.1 L486.3,519.0"/><path class="t" d="M500.7,479.6 L499.1,481.1 L497.7,482.6 L496.4,484.2 L495.2,485.8 L494.1,487.5 L493.0,489.3 L492.1,491.0 L491.2,492.9 L490.4,494.7 L489.7,496.7 L489.0,498.6 L488.4,500.6"/><path class="t" d="M493.3,492.0 L492.6,493.5 L491.9,495.1 L491.3,496.6 L490.7,498.3 L490.2,499.9 L489.7,501.6 L489.3,503.3 L488.9,505.0 L488.6,506.8 L488.4,508.6 L488.2,510.4 L488.1,512.3"/><path class="kk" d="M509.7,480.1 L505.8,482.2 L503.0,485.0 L500.7,488.0 L498.7,491.1 L496.9,494.5 L495.4,498.0 L494.2,501.6 L493.2,505.4 L492.5,509.3 L492.1,513.4 L492.2,517.7 L493.3,522.7"/><path class="t" d="M507.7,483.1 L506.1,484.5 L504.7,486.1 L503.4,487.7 L502.2,489.3 L501.1,491.0 L500.0,492.8 L499.1,494.6 L498.2,496.4 L497.4,498.3 L496.7,500.2 L496.0,502.2 L495.4,504.2"/><path class="t" d="M500.3,495.5 L499.6,497.1 L498.9,498.6 L498.3,500.2 L497.7,501.8 L497.2,503.5 L496.7,505.2 L496.3,506.9 L495.9,508.6 L495.6,510.4 L495.4,512.2 L495.2,514.1 L495.1,516.0"/><path class="kk" d="M516.7,483.5 L512.8,485.7 L510.0,488.5 L507.7,491.5 L505.7,494.7 L503.9,498.0 L502.4,501.5 L501.2,505.2 L500.2,509.0 L499.5,512.9 L499.1,517.0 L499.2,521.4 L500.3,526.4"/><path class="t" d="M514.7,486.6 L513.1,488.0 L511.7,489.5 L510.4,491.2 L509.2,492.8 L508.1,494.5 L507.0,496.3 L506.1,498.1 L505.2,500.0 L504.4,501.9 L503.7,503.8 L503.0,505.8 L502.4,507.8"/><path class="t" d="M507.3,499.1 L506.6,500.6 L505.9,502.2 L505.3,503.8 L504.7,505.4 L504.2,507.1 L503.7,508.8 L503.3,510.5 L502.9,512.2 L502.6,514.0 L502.4,515.8 L502.2,517.7 L502.1,519.6"/><path class="kk" d="M523.7,486.9 L519.8,489.1 L517.0,491.9 L514.7,495.0 L512.7,498.2 L510.9,501.6 L509.4,505.1 L508.2,508.8 L507.2,512.6 L506.5,516.5 L506.1,520.7 L506.2,525.1 L507.3,530.1"/><path class="t" d="M521.7,490.0 L520.1,491.5 L518.7,493.0 L517.4,494.6 L516.2,496.3 L515.1,498.1 L514.0,499.8 L513.1,501.7 L512.2,503.5 L511.4,505.4 L510.7,507.4 L510.0,509.4 L509.4,511.4"/><path class="t" d="M514.3,502.6 L513.6,504.1 L512.9,505.7 L512.3,507.3 L511.7,509.0 L511.2,510.7 L510.7,512.4 L510.3,514.1 L509.9,515.9 L509.6,517.7 L509.4,519.5 L509.2,521.4 L509.1,523.3"/><path class="kk" d="M530.7,490.4 L526.8,492.6 L524.0,495.4 L521.7,498.5 L519.7,501.7 L517.9,505.1 L516.4,508.7 L515.2,512.3 L514.2,516.2 L513.5,520.2 L513.1,524.4 L513.2,528.8 L514.3,533.8"/><path class="t" d="M528.7,493.5 L527.1,494.9 L525.7,496.5 L524.4,498.1 L523.2,499.8 L522.1,501.6 L521.0,503.4 L520.1,505.2 L519.2,507.1 L518.4,509.0 L517.7,510.9 L517.0,513.0 L516.4,515.0"/><path class="t" d="M521.3,506.1 L520.6,507.7 L519.9,509.3 L519.3,510.9 L518.7,512.6 L518.2,514.2 L517.7,516.0 L517.3,517.7 L516.9,519.5 L516.6,521.3 L516.4,523.1 L516.2,525.0 L516.1,526.9"/><path class="kk" d="M537.7,493.8 L533.8,496.0 L531.0,498.9 L528.7,502.0 L526.7,505.2 L524.9,508.7 L523.4,512.2 L522.2,515.9 L521.2,519.8 L520.5,523.8 L520.1,528.0 L520.2,532.4 L521.3,537.5"/><path class="t" d="M535.7,496.9 L534.1,498.4 L532.7,500.0 L531.4,501.6 L530.2,503.3 L529.1,505.1 L528.0,506.9 L527.1,508.7 L526.2,510.6 L525.4,512.5 L524.7,514.5 L524.0,516.5 L523.4,518.6"/><path class="t" d="M528.3,509.7 L527.6,511.2 L526.9,512.8 L526.3,514.5 L525.7,516.1 L525.2,517.8 L524.7,519.6 L524.3,521.3 L523.9,523.1 L523.6,524.9 L523.4,526.8 L523.2,528.7 L523.1,530.6"/><path class="kk" d="M542.3,496.1 L538.6,498.4 L535.9,501.3 L533.7,504.4 L531.9,507.7 L530.3,511.2 L528.9,514.8 L527.8,518.6 L527.0,522.5 L526.4,526.6 L526.2,530.8 L526.4,535.3 L527.7,540.4"/><ellipse cx="417.05" cy="451.35" rx="62.3" ry="50.2" fill="none" stroke="#ed1c24" stroke-width="4.7" shape-rendering="crispEdges" transform="rotate(-2 417 451.3)"/><g transform="translate(606.4,452.2)"><use href="#tri"/></g><path class="t" d="M587.5,476 L560,458.5"/><path class="b" d="M555.6,455.3 L564.9,458.5 L562.3,462.5 Z"/>
<path d="M393.9,93.9 C390,94.5 387,96.5 385.5,98.2 C384.3,101 384,105 384.2,108.2 C386,111 390,112.6 393.9,112.6 C398,112.6 402,111 403.9,108.2 C404.2,105 404,101 402.9,98.2 C401,96.5 398,94.5 393.9,93.9 Z" fill="#0a0a0a" stroke="#000" stroke-width=".6"/><ellipse cx="393.9" cy="99.4" rx="6.5" ry="3.3" fill="#f4f4f4"/><ellipse cx="393.9" cy="99.5" rx="5.1" ry="2.5" fill="#0a0a0a"/><ellipse cx="393.9" cy="99.5" rx="3.3" ry="1.4" fill="#b8b8b8"/><path d="M391.2,99 H396.6 M391,100.1 H396.8" stroke="#666" stroke-width=".5" fill="none"/><path d="M386.3,101.8 L387.4,101.3 L389.5,105.5 L388.9,106.3 Z M401.6,102.1 L400.8,101.6 L398.9,105.3 L399.7,105.8 Z M391.1,105.3 H397.9 V107.1 H391.1 Z" fill="#fff"/><path d="M385.8,106.2 C388.5,108 391,108.8 393.9,108.8 C397,108.8 400,108 402.4,106.7 M386.3,109 C389,110.3 391.5,110.6 393.9,110.6 C396.5,110.6 399,110 401.3,108.8" stroke="#f0f0f0" stroke-width=".9" fill="none"/><path class="w" d="M385,259.5 C385,253.8 403.6,253.8 403.6,259.5 L403.6,262.6 L398.6,266.4 L390.6,266.4 L385,262.6 Z"/><path class="t" d="M385.6,259.6 L391,262.9 L398.4,262.9 L403.2,259.6 M391,262.9 V266.2 M398.4,262.9 V266.2"/><path class="wn" d="M389.8,258 L389.8,221.5 C389.8,217 398.5,217 398.5,221.5 L398.5,258 C396,259.6 392,259.6 389.8,258 Z"/><path class="kk" d="M390.2,258 L390.2,221.5 C390.2,219 391.5,217.9 392.8,217.7"/><path class="m" d="M395.6,217.7 C397,217.9 398.4,219 398.4,221.5 L398.4,258"/><path class="t" d="M390.2,258.2 C392,259.6 396,259.6 398.4,258.2"/><path class="t" d="M392.3,222 L392.3,256"/><path class="t" d="M392.3,223.6 H397.6 M392.3,225.7 H397.6 M392.3,227.8 H397.6 M392.3,229.9 H397.6 M392.3,232 H397.6 M392.3,234.1 H397.6 M393.5,236.2 H397.6"/><path class="ld" d="M356,102.8 H376 M354.5,257 H375 M493,124 V146.5 M858,309 H873 M634,474.3 H648"/><path d="M282.5,271 V326" stroke="#3a3a3a" stroke-width="1" fill="none"/><path d="M846.5,304.5 C849,308 852,308.8 860,309 C852,309.4 849,309.5 848,309.6 Z M620.5,469.7 C623,473.3 626,474 636,474.3 C626,474.7 623,474.8 622,474.9 Z" fill="#111" stroke="#111" stroke-width=".8"/><path class="ld" d="M394.5,114.7 V121.5 M394.5,123 V154 M394.5,188.8 V214.5"/><text class="lbl" x="344.8" y="106">3</text><text class="lbl" x="496" y="106.5">1</text><text class="lbl" x="288.6" y="261">2</text><text class="lbl" x="344.4" y="261">4</text><text class="lbl" x="887" y="312">5</text><text class="lbl" x="663.6" y="478.3">5</text>
<rect x="865" y="586.5" width="77.5" height="55" fill="#fff" stroke="#333" stroke-width="1"/><path d="M869.8,604 L880.3,610 L915.4,590.8 L937.2,602.6 C938.5,604 938.5,607 937.5,608.8 L911,625 C913.5,626.5 914,628 913.8,630 L913.6,633.5 C913,635.5 911.5,636 909,636 L878,636.2 C872,636 870,633 869.8,628 Z" fill="#000" stroke="#000" stroke-width="1.2" stroke-linejoin="round"/><path d="M871,606 L880.3,611.4 L915.4,592.3 L934.3,602.7 L902,622.8 L907.5,627.8 L878,628 C873,627.5 871.3,625 871.2,621 Z" fill="#fff" stroke="none"/>
</svg>
</body></html>
